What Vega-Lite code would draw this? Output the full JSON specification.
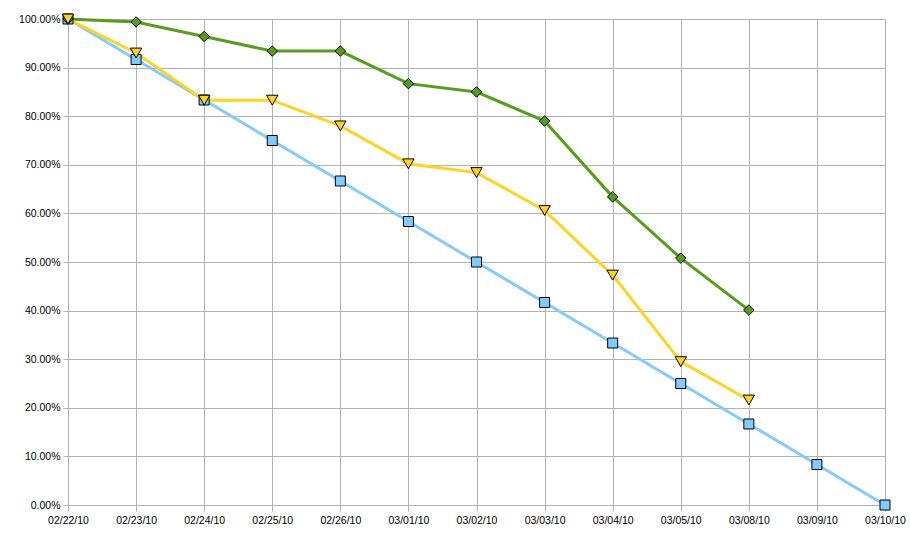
{
  "$schema": "https://vega.github.io/schema/vega-lite/v6.json",
  "width": 817,
  "height": 486,
  "autosize": {"type": "none"},
  "padding": {"left": 68, "top": 19, "right": 25, "bottom": 34},
  "background": "white",
  "config": {
    "view": {"stroke": null},
    "font": "Liberation Sans",
    "axis": {
      "labelFont": "Liberation Sans",
      "labelFontSize": 10.5,
      "labelColor": "#000000",
      "gridColor": "#b3b3b3",
      "gridWidth": 1,
      "domainColor": "#b3b3b3",
      "tickColor": "#b3b3b3",
      "title": null
    }
  },
  "data": {
    "values": [
      {"date": "02/22/10", "series": "Ideal", "value": 1.0},
      {"date": "02/23/10", "series": "Ideal", "value": 0.9167},
      {"date": "02/24/10", "series": "Ideal", "value": 0.8333},
      {"date": "02/25/10", "series": "Ideal", "value": 0.75},
      {"date": "02/26/10", "series": "Ideal", "value": 0.6667},
      {"date": "03/01/10", "series": "Ideal", "value": 0.5833},
      {"date": "03/02/10", "series": "Ideal", "value": 0.5},
      {"date": "03/03/10", "series": "Ideal", "value": 0.4167},
      {"date": "03/04/10", "series": "Ideal", "value": 0.3333},
      {"date": "03/05/10", "series": "Ideal", "value": 0.25},
      {"date": "03/08/10", "series": "Ideal", "value": 0.1667},
      {"date": "03/09/10", "series": "Ideal", "value": 0.0833},
      {"date": "03/10/10", "series": "Ideal", "value": 0.0},
      {"date": "02/22/10", "series": "Green", "value": 1.0},
      {"date": "02/23/10", "series": "Green", "value": 0.994},
      {"date": "02/24/10", "series": "Green", "value": 0.964},
      {"date": "02/25/10", "series": "Green", "value": 0.934},
      {"date": "02/26/10", "series": "Green", "value": 0.934},
      {"date": "03/01/10", "series": "Green", "value": 0.867},
      {"date": "03/02/10", "series": "Green", "value": 0.85},
      {"date": "03/03/10", "series": "Green", "value": 0.79},
      {"date": "03/04/10", "series": "Green", "value": 0.634},
      {"date": "03/05/10", "series": "Green", "value": 0.508},
      {"date": "03/08/10", "series": "Green", "value": 0.401},
      {"date": "02/22/10", "series": "Yellow", "value": 1.0},
      {"date": "02/23/10", "series": "Yellow", "value": 0.93},
      {"date": "02/24/10", "series": "Yellow", "value": 0.833},
      {"date": "02/25/10", "series": "Yellow", "value": 0.833},
      {"date": "02/26/10", "series": "Yellow", "value": 0.78},
      {"date": "03/01/10", "series": "Yellow", "value": 0.702},
      {"date": "03/02/10", "series": "Yellow", "value": 0.684},
      {"date": "03/03/10", "series": "Yellow", "value": 0.606},
      {"date": "03/04/10", "series": "Yellow", "value": 0.473},
      {"date": "03/05/10", "series": "Yellow", "value": 0.295},
      {"date": "03/08/10", "series": "Yellow", "value": 0.216}
    ]
  },
  "encoding": {
    "x": {
      "field": "date",
      "type": "ordinal",
      "sort": null,
      "scale": {"type": "point", "padding": 0},
      "axis": {"labelAngle": 0, "grid": true, "tickSize": 6, "labelPadding": 4, "domain": true}
    },
    "y": {
      "field": "value",
      "type": "quantitative",
      "scale": {"domain": [0, 1], "nice": false},
      "axis": {"format": ".2%", "values": [0, 0.1, 0.2, 0.3, 0.4, 0.5, 0.6, 0.7, 0.8, 0.9, 1.0], "grid": true, "tickSize": 5, "labelPadding": 3, "domain": true}
    },
    "color": {
      "field": "series",
      "type": "nominal",
      "sort": null,
      "scale": {"domain": ["Ideal", "Green", "Yellow"], "range": ["#83caff", "#579d1c", "#ffd320"]},
      "legend": null
    }
  },
  "layer": [
    {
      "mark": {"type": "line", "strokeWidth": 3},
      "encoding": {"detail": {"field": "series"}}
    },
    {
      "mark": {"type": "point", "filled": true, "stroke": "#000000", "strokeWidth": 1, "opacity": 1},
      "encoding": {
        "shape": {
          "field": "series",
          "type": "nominal",
          "scale": {"domain": ["Ideal", "Green", "Yellow"], "range": ["square", "diamond", "triangle-down"]},
          "legend": null
        },
        "size": {
          "field": "series",
          "type": "nominal",
          "scale": {"type": "ordinal", "domain": ["Ideal", "Green", "Yellow"], "range": [100, 110, 130]},
          "legend": null
        },
        "fill": {
          "field": "series",
          "type": "nominal",
          "scale": {"domain": ["Ideal", "Green", "Yellow"], "range": ["#83caff", "#579d1c", "#ffd320"]},
          "legend": null
        }
      }
    }
  ]
}
